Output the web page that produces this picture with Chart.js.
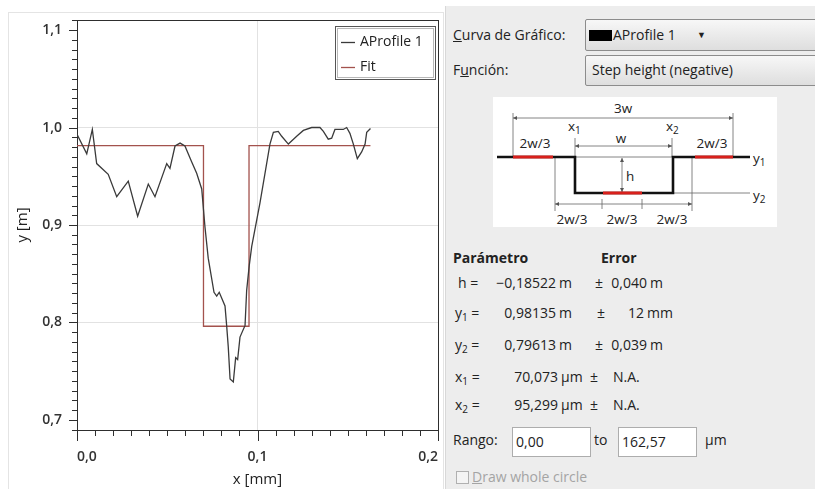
<!DOCTYPE html>
<html>
<head>
<meta charset="utf-8">
<script src="https://cdn.jsdelivr.net/npm/chart.js@4.4.1/dist/chart.umd.min.js"></script>
<style>
  body { margin: 0; width: 815px; height: 489px; overflow: hidden; background: #fff; position: relative;
         font-family: "Open Sans", "Noto Sans", sans-serif; font-size: 14px; color: #222; }
  .abs { position: absolute; white-space: nowrap; }
  #frame { left: 8px; top: 12px; width: 434px; height: 490px; border: 1px solid #e4e4e4; }
  #chartCanvas { position: absolute; left: 0; top: 0; }
  #panel { left: 445px; top: 6px; width: 370px; height: 483px; background: #ededed; border-left: 1px solid #d8d8d8; }
  .lbl { line-height: 20px; }
  .combo { border: 1px solid #8c8c8c; border-radius: 2px; background: linear-gradient(#f7f7f7, #dedede); box-sizing: border-box; }
  .u { text-decoration: underline; }
  .entry { background: #fff; border: 1px solid #adadad; box-sizing: border-box; height: 30px; line-height: 28px; padding-left: 3px; }
  sub { font-size: 10px; vertical-align: -3px; line-height: 0; }
  .b { font-weight: bold; }
</style>
</head>
<body>
<div id="frame" class="abs"></div>
<canvas id="chartCanvas" width="445" height="489"></canvas>

<div id="panel" class="abs"></div>
<div class="abs lbl" style="left:453px; top:25px;"><span class="u">C</span>urva de Gráfico:</div>
<div class="abs combo" style="left:585px; top:19px; width:232px; height:32px;">
  <div class="abs" style="left:3px; top:10px; width:23px; height:11px; background:#000;"></div>
  <div class="abs lbl" style="left:27px; top:5px;">AProfile 1</div>
  <div class="abs" style="left:111px; top:8px; font-size:9px;">&#9660;</div>
</div>
<div class="abs lbl" style="left:453px; top:60px;">F<span class="u">u</span>nción:</div>
<div class="abs combo" style="left:585px; top:55px; width:232px; height:31px;">
  <div class="abs lbl" style="left:6px; top:4px;">Step height (negative)</div>
</div>

<div class="abs" style="left:493px; top:97px; width:284px; height:130px; background:#fff;"></div>
<svg class="abs" style="left:493px; top:97px;" width="284" height="130" viewBox="493 97 284 130"
     font-family="Open Sans, sans-serif" font-size="13.5" fill="#222">
  <defs>
    <marker id="arrowHead" markerWidth="6" markerHeight="6" refX="5" refY="3" orient="auto-start-reverse">
      <path d="M0,0.5 L5,3 L0,5.5 z" fill="#555"/>
    </marker>
  </defs>
  <g stroke="#666" stroke-width="0.8" fill="none">
    <path d="M513,118 H733" marker-start="url(#arrowHead)" marker-end="url(#arrowHead)"/>
    <path d="M513,113 V157 M733,113 V157"/>
    <path d="M575,146 H672" marker-start="url(#arrowHead)" marker-end="url(#arrowHead)"/>
    <path d="M575,138 V157 M672,138 V157 M575,157 H673 M673,193 H750"/>
    <path d="M622,158 V192" marker-start="url(#arrowHead)" marker-end="url(#arrowHead)"/>
    <path d="M555,157 V211 M692,157 V211"/>
    <path d="M555,204 H692" marker-start="url(#arrowHead)" marker-end="url(#arrowHead)"/>
    <path d="M602,199 V209 M642,199 V209"/>
  </g>
  <path d="M497,157 L575,157 L575,193 L673,193 L673,157 L750,157" stroke="#111" stroke-width="2.6" fill="none"/>
  <path d="M513,157 H553 M695,157 H733 M603,193 H642" stroke="#d8201c" stroke-width="3.2" fill="none"/>
  <text x="623" y="113" text-anchor="middle">3w</text>
  <text x="568" y="131">x<tspan font-size="10" dy="3">1</tspan></text>
  <text x="666" y="131">x<tspan font-size="10" dy="3">2</tspan></text>
  <text x="621" y="143" text-anchor="middle">w</text>
  <text x="535" y="148" text-anchor="middle">2w/3</text>
  <text x="712" y="148" text-anchor="middle">2w/3</text>
  <text x="626" y="181">h</text>
  <text x="753" y="163">y<tspan font-size="10" dy="3">1</tspan></text>
  <text x="753" y="200">y<tspan font-size="10" dy="3">2</tspan></text>
  <text x="572" y="224" text-anchor="middle">2w/3</text>
  <text x="622" y="224" text-anchor="middle">2w/3</text>
  <text x="672" y="224" text-anchor="middle">2w/3</text>
</svg>

<div class="abs lbl b" style="left:453px; top:248px;">Parámetro</div>
<div class="abs lbl b" style="left:601px; top:248px;">Error</div>

<div class="abs lbl" style="left:458px; top:273px;">h =</div>
<div class="abs lbl" style="left:470px; top:273px; width:86px; text-align:right;">−0,18522</div>
<div class="abs lbl" style="left:559px; top:273px;">m</div>
<div class="abs lbl" style="left:595px; top:273px;">±</div>
<div class="abs lbl" style="left:596px; top:273px; width:51px; text-align:right;">0,040</div>
<div class="abs lbl" style="left:650px; top:273px;">m</div>

<div class="abs lbl" style="left:455px; top:303px;">y<sub>1</sub> =</div>
<div class="abs lbl" style="left:470px; top:303px; width:86px; text-align:right;">0,98135</div>
<div class="abs lbl" style="left:559px; top:303px;">m</div>
<div class="abs lbl" style="left:597px; top:303px;">±</div>
<div class="abs lbl" style="left:596px; top:303px; width:48px; text-align:right;">12</div>
<div class="abs lbl" style="left:647px; top:303px;">mm</div>

<div class="abs lbl" style="left:455px; top:335px;">y<sub>2</sub> =</div>
<div class="abs lbl" style="left:470px; top:335px; width:86px; text-align:right;">0,79613</div>
<div class="abs lbl" style="left:559px; top:335px;">m</div>
<div class="abs lbl" style="left:595px; top:335px;">±</div>
<div class="abs lbl" style="left:596px; top:335px; width:51px; text-align:right;">0,039</div>
<div class="abs lbl" style="left:650px; top:335px;">m</div>

<div class="abs lbl" style="left:455px; top:367px;">x<sub>1</sub> =</div>
<div class="abs lbl" style="left:470px; top:367px; width:88px; text-align:right;">70,073</div>
<div class="abs lbl" style="left:561px; top:367px;">µm</div>
<div class="abs lbl" style="left:590px; top:367px;">±</div>
<div class="abs lbl" style="left:613px; top:367px;">N.A.</div>

<div class="abs lbl" style="left:455px; top:395px;">x<sub>2</sub> =</div>
<div class="abs lbl" style="left:470px; top:395px; width:88px; text-align:right;">95,299</div>
<div class="abs lbl" style="left:561px; top:395px;">µm</div>
<div class="abs lbl" style="left:590px; top:395px;">±</div>
<div class="abs lbl" style="left:613px; top:395px;">N.A.</div>

<div class="abs lbl" style="left:453px; top:430px;">Rango:</div>
<div class="abs entry" style="left:512px; top:427px; width:79px;">0,00</div>
<div class="abs lbl" style="left:594px; top:430px;">to</div>
<div class="abs entry" style="left:618px; top:427px; width:79px;">162,57</div>
<div class="abs lbl" style="left:705px; top:430px;">µm</div>

<div class="abs" style="left:456px; top:471px; width:11px; height:11px; border:1px solid #b0b0b0; background:#f4f4f4;"></div>
<div class="abs lbl" style="left:472px; top:467px; color:#a4a4a4;"><span class="u">D</span>raw whole circle</div>

<script>
// measured profile (x in mm, y in m)
const profileX = [0, 0.0054, 0.0085, 0.0109, 0.0173, 0.0220, 0.0284, 0.0336, 0.0395, 0.0432,
  0.0497, 0.0515, 0.0543, 0.0571, 0.0598, 0.0635, 0.0663, 0.0691, 0.0709, 0.0727,
  0.0759, 0.0774, 0.0788, 0.0820, 0.0829, 0.0838, 0.0848, 0.0866, 0.0879, 0.0890,
  0.0903, 0.0931, 0.0940, 0.0954, 0.0968, 0.1014, 0.1069, 0.1088, 0.1115, 0.1134,
  0.1171, 0.1217, 0.1254, 0.1300, 0.1346, 0.1365, 0.1392, 0.1411, 0.1429, 0.1475,
  0.1494, 0.1512, 0.1531, 0.1553, 0.1577, 0.1596, 0.1605, 0.1626];
const profileY = [0.993, 0.973, 0.998, 0.963, 0.952, 0.929, 0.945, 0.909, 0.942, 0.929,
  0.963, 0.958, 0.981, 0.984, 0.981, 0.965, 0.953, 0.937, 0.898, 0.866,
  0.831, 0.827, 0.831, 0.817, 0.797, 0.775, 0.742, 0.739, 0.764, 0.762,
  0.785, 0.797, 0.833, 0.858, 0.878, 0.923, 0.983, 0.995, 0.996, 0.991,
  0.983, 0.991, 0.997, 1.000, 1.000, 0.996, 0.988, 0.989, 0.998, 0.998,
  1.000, 0.994, 0.983, 0.968, 0.975, 0.983, 0.995, 0.999];

// step height fit: y1 = 0.98135, y2 = 0.79613, x1 = 70.073 um, x2 = 95.299 um
const fitX = [0, 0.070073, 0.070073, 0.095299, 0.095299, 0.16257];
const fitY = [0.98135, 0.98135, 0.79613, 0.79613, 0.98135, 0.98135];

const xTicks = [0.0, 0.1, 0.2];
const yTicks = [0.7, 0.8, 0.9, 1.0, 1.1];
const xMinor = 0.01, yMinor = 0.01;

const labelFont = { family: "Open Sans", size: 14, weight: "600" };
const fmt = v => v.toFixed(1).replace(".", ",");

function seg(ctx, x1, y1, x2, y2) {
  ctx.beginPath();
  ctx.moveTo(x1, y1);
  ctx.lineTo(x2, y2);
  ctx.stroke();
}

// frame, minor ticks and the in-plot legend
const gwyPlugin = {
  id: "gwy",
  afterDraw(chart) {
    const ctx = chart.ctx, a = chart.chartArea;
    const xs = chart.scales.x, ys = chart.scales.y;
    const L = Math.round(a.left), R = Math.round(a.right), T = Math.round(a.top), B = Math.round(a.bottom);
    ctx.save();
    ctx.strokeStyle = "#2e2e2e";
    ctx.lineWidth = 1;
    seg(ctx, L, T + 0.5, R + 1, T + 0.5);
    seg(ctx, R + 0.5, T, R + 0.5, B);
    for (let i = 69; i <= 111; i++) {
      const v = i * yMinor;
      if (v < ys.min || v > ys.max) continue;
      const py = Math.round(ys.getPixelForValue(v)) + 0.5;
      seg(ctx, L - (i % 10 === 0 ? 8 : 5), py, L + 1, py);
    }
    for (let i = 0; i <= 20; i++) {
      const px = Math.round(xs.getPixelForValue(i * xMinor)) + 0.5;
      seg(ctx, px, B, px, B + (i % 10 === 0 ? 11 : 6));
    }

    // legend box
    const bx = R - 103, by = T + 6, bw = 100, bh = 53;
    ctx.fillStyle = "#fff";
    ctx.fillRect(bx, by, bw, bh);
    ctx.strokeStyle = "#555";
    ctx.strokeRect(bx + 0.5, by + 0.5, bw, bh);
    ctx.strokeStyle = "#b8b8b8";
    ctx.strokeRect(bx + 2.5, by + 2.5, bw - 4, bh - 4);
    ctx.font = "14px 'Open Sans'";
    ctx.textBaseline = "middle";
    chart.data.datasets.forEach((ds, i) => {
      const ly = by + 16 + i * 25;
      ctx.strokeStyle = ds.borderColor;
      ctx.lineWidth = 1.3;
      seg(ctx, bx + 6, ly + 0.5, bx + 20, ly + 0.5);
      ctx.fillStyle = "#222";
      ctx.fillText(ds.label, bx + 25, ly);
    });
    ctx.restore();
  }
};

new Chart(document.getElementById("chartCanvas"), {
  type: "line",
  data: {
    datasets: [
      {
        label: "AProfile 1",
        data: profileX.map((v, i) => ({ x: v, y: profileY[i] })),
        borderColor: "#3a3a3a", borderWidth: 1.3, pointRadius: 0, tension: 0, fill: false
      },
      {
        label: "Fit",
        data: fitX.map((v, i) => ({ x: v, y: fitY[i] })),
        borderColor: "#a3524d", borderWidth: 1.3, pointRadius: 0, tension: 0, fill: false
      }
    ]
  },
  options: {
    responsive: false,
    animation: false,
    devicePixelRatio: 1,
    layout: { padding: { top: 20, right: 7, left: 0, bottom: 0 } },
    plugins: { legend: { display: false }, tooltip: { enabled: false } },
    scales: {
      x: {
        type: "linear", min: 0, max: 0.2,
        afterBuildTicks: s => { s.ticks = xTicks.map(v => ({ value: v })); },
        afterFit: s => { s.height = 59; s.paddingLeft = 0; s.paddingRight = 0; },
        grid: {
          drawTicks: false,
          color: c => (c.tick && c.tick.value > 0.001 && c.tick.value < 0.199) ? "#e2e2e2" : "transparent"
        },
        border: { color: "#2e2e2e", width: 1 },
        ticks: { align: "inner", padding: 19, maxRotation: 0, autoSkip: false,
                 callback: v => fmt(v), font: labelFont, color: "#333" },
        title: { display: true, text: "x [mm]", padding: { top: 0, bottom: 0 },
                 font: { family: "Open Sans", size: 15 }, color: "#222" }
      },
      y: {
        type: "linear", min: 0.6897, max: 1.1103,
        afterBuildTicks: s => { s.ticks = yTicks.map(v => ({ value: v })); },
        afterFit: s => { s.width = 77; s.paddingTop = 0; s.paddingBottom = 0; },
        grid: {
          drawTicks: false,
          color: c => (c.tick && c.tick.value > 0.75 && c.tick.value < 1.05) ? "#e2e2e2" : "transparent"
        },
        border: { color: "#2e2e2e", width: 1 },
        ticks: { padding: 15, autoSkip: false, callback: v => fmt(v), font: labelFont, color: "#333" },
        title: { display: true, text: "y [m]", padding: { top: 14 },
                 font: { family: "Open Sans", size: 15 }, color: "#222" }
      }
    }
  },
  plugins: [gwyPlugin]
});
</script>
</body>
</html>
